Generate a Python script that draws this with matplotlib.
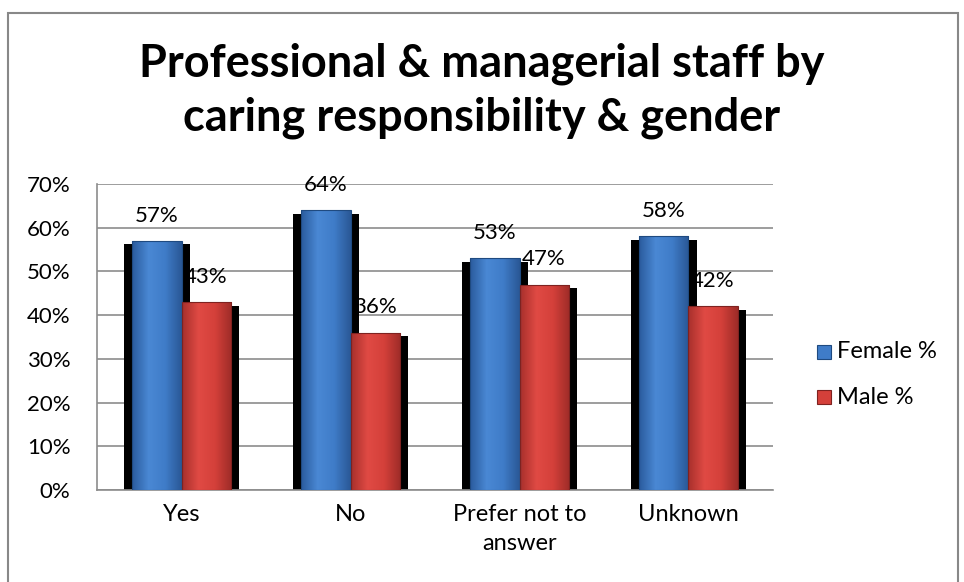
import numpy as np
import matplotlib.pyplot as plt
from matplotlib.patches import Rectangle
from matplotlib.colors import LinearSegmentedColormap

# Share of professional & managerial staff in each caring group
categories = ["Yes", "No", "Prefer not to\nanswer", "Unknown"]
female_pct = [57, 64, 53, 58]
male_pct = [43, 36, 47, 42]
series_names = ["Female %", "Male %"]
y_ticks = [0, 10, 20, 30, 40, 50, 60, 70]

FONT = ["Lato", "DejaVu Sans"]
plt.rcParams["font.family"] = FONT

blue_map = LinearSegmentedColormap.from_list(
    "blue_bar", ["#2b5c9e", "#4a88d4", "#3f7cc8", "#2a5896"])
red_map = LinearSegmentedColormap.from_list(
    "red_bar", ["#a8302c", "#e04a44", "#d4403a", "#9e2c28"])


def shaded_bar(ax, x, h, w, cmap, edge):
    # black drop shadow sitting a little wider than the bar
    ax.bar(x, h - 0.8, width=w + 0.1, bottom=0, color="black", zorder=2)
    bar = ax.bar(x, h, width=w, color="none", edgecolor=edge, lw=0.8, zorder=4)[0]
    grad = np.linspace(0, 1, 64).reshape(1, -1)
    im = ax.imshow(grad, cmap=cmap, aspect="auto", zorder=3,
                   extent=[x - w / 2, x + w / 2, 0, h])
    im.set_clip_path(bar)
    return bar


fig = plt.figure(figsize=(9.64, 5.82), dpi=100)
ax = fig.add_axes([97 / 964, 92 / 582, 676 / 964, 306 / 582])

w = 0.29
xs = np.arange(len(categories))
for i, (f, m) in enumerate(zip(female_pct, male_pct)):
    shaded_bar(ax, xs[i] - w / 2, f, w, blue_map, "#1f4a80")
    shaded_bar(ax, xs[i] + w / 2, m, w, red_map, "#7e2220")
    for xc, v in ((xs[i] - w / 2, f), (xs[i] + w / 2, m)):
        ax.annotate(f"{v}%", (xc, v), xytext=(0, 11), textcoords="offset points",
                    ha="center", va="bottom", fontsize=16, zorder=1)

ax.set_xlim(-0.5, len(categories) - 0.5)
ax.set_ylim(0, 70)
ax.set_yticks(y_ticks)
ax.set_yticklabels([f"{t}%" for t in y_ticks])
ax.set_xticks(xs)
ax.set_xticklabels(categories)
ax.tick_params(axis="y", length=0, pad=19, labelsize=16)
ax.tick_params(axis="x", length=0, pad=10, labelsize=17)
for lbl in ax.get_xticklabels():
    lbl.set_linespacing(1.45)
ax.yaxis.grid(True, color="#8c8c8c", lw=1.2, zorder=0)
ax.set_axisbelow(True)
for side in ("top", "right"):
    ax.spines[side].set_visible(False)
for side in ("left", "bottom"):
    ax.spines[side].set_color("#8c8c8c")
    ax.spines[side].set_linewidth(1.2)

fig.text(0.5, 1 - 91 / 582, "Professional & managerial staff by\ncaring responsibility & gender",
         ha="center", va="center", fontsize=32.5, fontweight="bold", linespacing=1.35)

# legend squares
for j, (name, col, ec) in enumerate(zip(series_names, ["#3f7cc8", "#d4403a"],
                                        ["#1f4a80", "#7e2220"])):
    yy = 1 - (352 + 45 * j) / 582
    fig.patches.append(Rectangle((817 / 964, yy - 7 / 582), 14 / 964, 14 / 582,
                                 transform=fig.transFigure, facecolor=col,
                                 edgecolor=ec, lw=0.8))
    fig.text(837 / 964, yy, name, va="center", ha="left", fontsize=17)

# chart frame
fig.patches.append(Rectangle((8 / 964, -0.05), 950 / 964, 1.05 - 13 / 582,
                             transform=fig.transFigure, fill=False,
                             edgecolor="#888888", lw=1.5))

fig.savefig("out.png", dpi=100)
